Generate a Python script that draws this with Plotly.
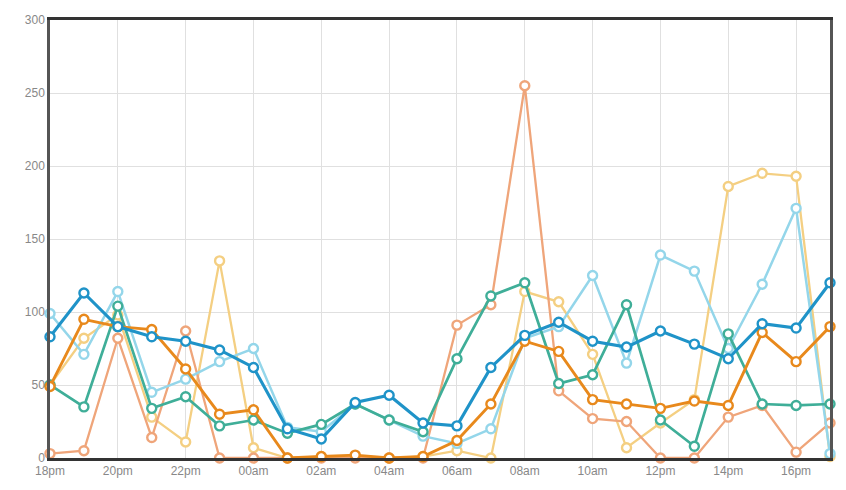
import plotly.graph_objects as go

hours = ["18pm", "19pm", "20pm", "21pm", "22pm", "23pm", "00am", "01am", "02am", "03am",
         "04am", "05am", "06am", "07am", "08am", "09am", "10am", "11am", "12pm", "13pm",
         "14pm", "15pm", "16pm", "17pm"]
tick_labels = hours[::2]

yellow = [50, 82, 98, 28, 11, 135, 7, 0, 1, 1, 0, 1, 5, 0, 114, 107, 71, 7, 24, 40, 186, 195, 193, 1]
salmon = [3, 5, 82, 14, 87, 0, 0, 0, 0, 0, 0, 0, 91, 105, 255, 46, 27, 25, 0, 0, 28, 36, 4, 24]
light_cyan = [99, 71, 114, 45, 54, 66, 75, 21, 18, 37, 26, 15, 10, 20, 82, 90, 125, 65, 139, 128, 75, 119, 171, 3]
teal = [50, 35, 104, 34, 42, 22, 26, 17, 23, 37, 26, 18, 68, 111, 120, 51, 57, 105, 26, 8, 85, 37, 36, 37]
dark_orange = [49, 95, 90, 88, 61, 30, 33, 0, 1, 2, 0, 1, 12, 37, 80, 73, 40, 37, 34, 39, 36, 86, 66, 90]
dark_blue = [83, 113, 90, 83, 80, 74, 62, 20, 13, 38, 43, 24, 22, 62, 84, 93, 80, 76, 87, 78, 68, 92, 89, 120]

series = [
    ("yellow", yellow, "#f4cf82", 2.3),
    ("salmon", salmon, "#efa57a", 2.3),
    ("light cyan", light_cyan, "#94d6ea", 2.5),
    ("teal", teal, "#3fae98", 2.7),
    ("dark orange", dark_orange, "#e8891c", 2.9),
    ("dark blue", dark_blue, "#1f93c8", 3.1),
]

fig = go.Figure()
for name, vals, color, w in series:
    fig.add_trace(go.Scatter(
        x=hours, y=vals, mode="lines+markers", name=name,
        line=dict(color=color, width=w),
        marker=dict(symbol="circle", size=9, color="white",
                    line=dict(color=color, width=2.4)),
        cliponaxis=False,
    ))

fig.update_layout(
    width=846, height=490,
    margin=dict(l=42, r=24, t=5, b=40),
    paper_bgcolor="white", plot_bgcolor="white",
    showlegend=False,
    font=dict(family="Arial, Liberation Sans, sans-serif", size=12, color="#888"),
)
fig.update_xaxes(
    type="category", categoryorder="array", categoryarray=hours,
    range=[0, 23],
    tickvals=tick_labels, ticktext=tick_labels,
    showgrid=True, gridcolor="#e0e0e0", gridwidth=1.2,
    showline=True, linecolor="#333", linewidth=2.5, mirror=True,
    ticks="", tickfont=dict(size=12, color="#888"),
)
fig.update_yaxes(
    range=[0, 300], dtick=50,
    showgrid=True, gridcolor="#e0e0e0", gridwidth=1.2,
    showline=True, linecolor="#555", linewidth=2.5, mirror=True,
    ticks="", zeroline=False, tickfont=dict(size=12, color="#888"),
)

fig.write_html("out.html")
